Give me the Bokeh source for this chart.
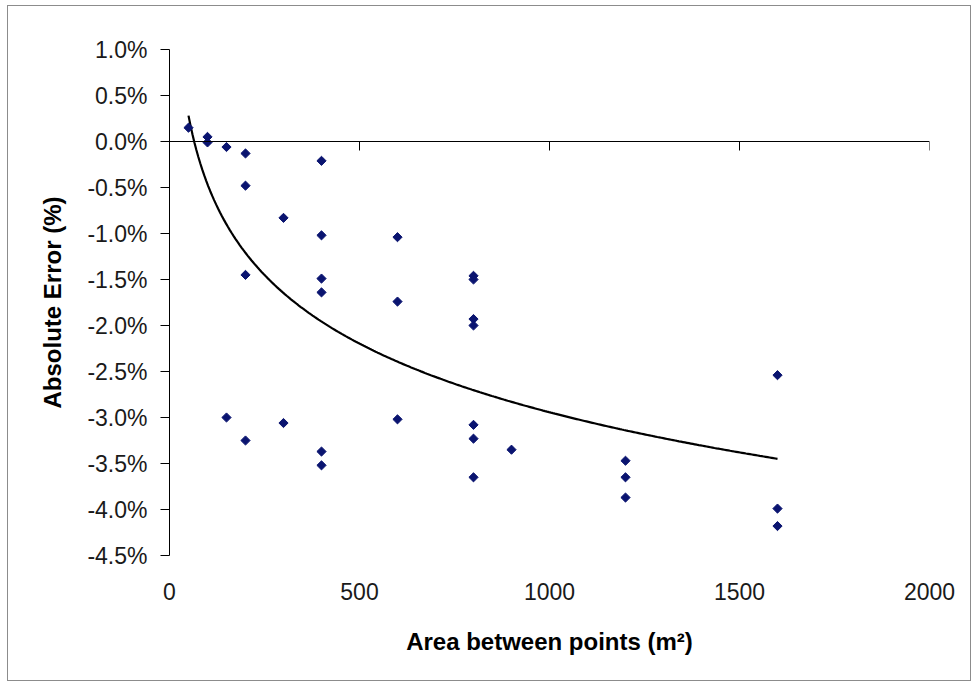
import numpy as np
from bokeh.plotting import figure
from bokeh.models import LinearAxis, FixedTicker, PrintfTickFormatter, Range1d
from bokeh.embed import file_html
from bokeh.resources import INLINE

# Data (area in m^2, absolute error in %)
area = [50, 100, 100, 150, 150, 200, 200, 200, 200, 300, 300,
        400, 400, 400, 400, 400, 400, 600, 600, 600,
        800, 800, 800, 800, 800, 800, 800, 900,
        1200, 1200, 1200, 1600, 1600, 1600]
error = [0.15, 0.05, -0.01, -0.06, -3.00, -0.13, -0.48, -1.45, -3.25, -0.83, -3.06,
         -0.21, -1.02, -1.49, -1.64, -3.37, -3.52, -1.04, -1.74, -3.02,
         -1.46, -1.50, -1.93, -2.00, -3.08, -3.23, -3.65, -3.35,
         -3.47, -3.65, -3.87, -2.54, -3.99, -4.18]

x_ticks = [0, 500, 1000, 1500, 2000]
y_ticks = [1.0, 0.5, 0.0, -0.5, -1.0, -1.5, -2.0, -2.5, -3.0, -3.5, -4.0, -4.5]

# Logarithmic trendline fitted to the data (as Excel does)
a, b = np.polyfit(np.log(area), error, 1)
trend_x = np.linspace(min(area), max(area), 300)
trend_y = a * np.log(trend_x) + b

FONT = "Liberation Sans"
TICK_COLOR = "#1a1a1a"

p = figure(width=964, height=676, output_backend="svg", toolbar_location=None,
           x_range=Range1d(0, 2000), y_range=Range1d(-4.5, 1.0),
           min_border_left=161, min_border_right=43, min_border_top=43, min_border_bottom=127,
           x_axis_location=None, y_axis_location=None)
p.outline_line_color = None
p.xgrid.visible = False
p.ygrid.visible = False
p.background_fill_color = "white"
p.border_fill_color = "white"
p.styles = {"border": "1px solid #8c8c8c", "margin-left": "7px", "margin-top": "5px"}

# Y axis
yax = LinearAxis(ticker=FixedTicker(ticks=y_ticks),
                 formatter=PrintfTickFormatter(format="%.1f%%"),
                 axis_label="Absolute Error (%)")
yax.axis_line_color = "black"
yax.major_tick_line_color = "black"
yax.major_tick_out = 9
yax.major_tick_in = 0
yax.minor_tick_line_color = None
yax.major_label_standoff = 13
yax.major_label_text_font = FONT
yax.major_label_text_font_size = "23px"
yax.major_label_text_color = TICK_COLOR
yax.axis_label_text_font = FONT
yax.axis_label_text_font_style = "bold"
yax.axis_label_text_font_size = "24px"
yax.axis_label_text_color = "black"
yax.axis_label_standoff = 18
p.add_layout(yax, "left")

# X axis tick labels and title at the bottom (no line, no ticks)
xax = LinearAxis(ticker=FixedTicker(ticks=x_ticks), axis_label="Area between points (m²)")
xax.axis_line_color = None
xax.major_tick_line_color = None
xax.minor_tick_line_color = None
xax.major_label_standoff = 21
xax.major_label_text_font = FONT
xax.major_label_text_font_size = "23px"
xax.major_label_text_color = TICK_COLOR
xax.axis_label_text_font = FONT
xax.axis_label_text_font_style = "bold"
xax.axis_label_text_font_size = "24px"
xax.axis_label_text_color = "black"
xax.axis_label_standoff = 25
p.add_layout(xax, "below")

# X axis line crossing at y = 0 with ticks pointing down (no labels)
x0ticks = x_ticks[1:]
x0ax = LinearAxis(ticker=FixedTicker(ticks=x0ticks), fixed_location=0,
                  major_label_overrides={t: "" for t in x0ticks})
x0ax.axis_line_color = "black"
x0ax.major_tick_line_color = "black"
x0ax.major_tick_in = 9
x0ax.major_tick_out = 0
x0ax.minor_tick_line_color = None
x0ax.major_label_standoff = 0
p.add_layout(x0ax, "above")

p.line(trend_x, trend_y, line_color="black", line_width=2.2)
p.scatter(area, error, marker="square", angle=np.pi / 4, size=6.5,
          fill_color="#0a1470", line_color="#0a1470")

open("out.html", "w").write(file_html(p, INLINE))
